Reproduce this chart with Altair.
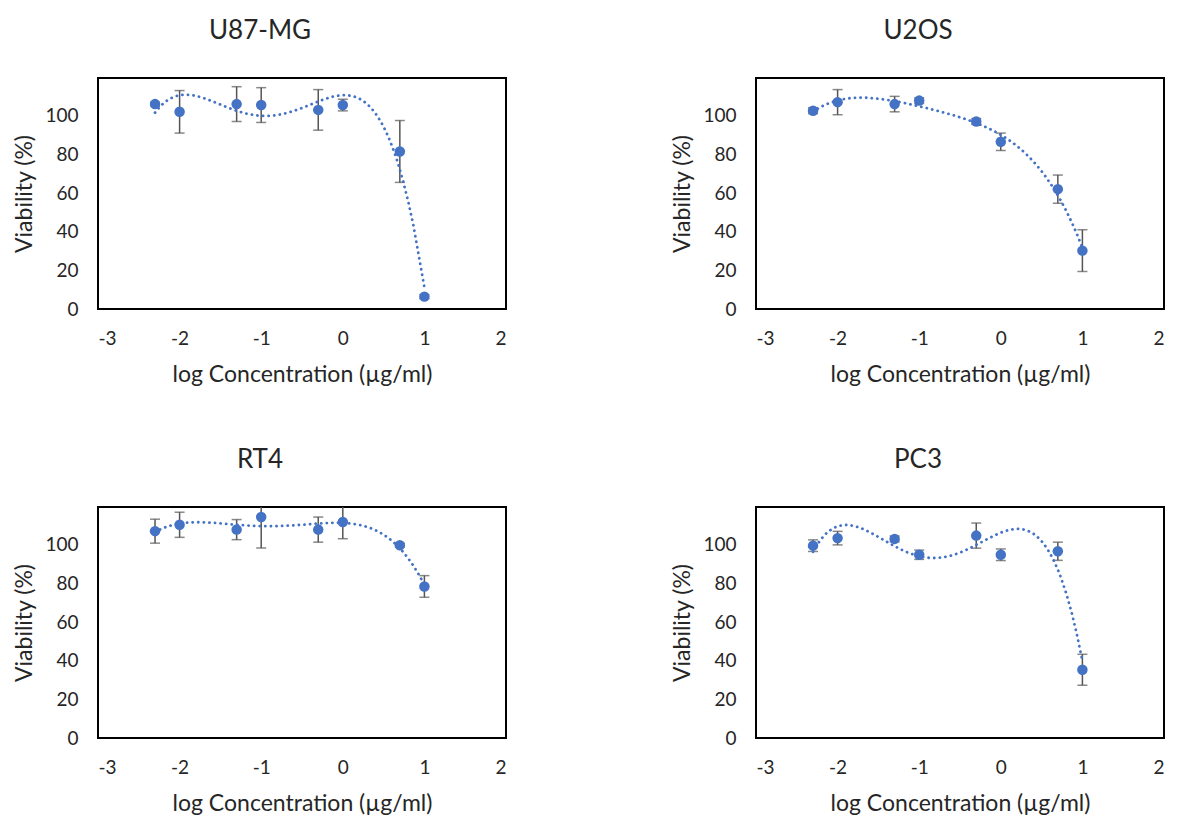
import altair as alt
import pandas as pd

log_conc = [-2.301, -2.0, -1.301, -1.0, -0.301, 0.0, 0.699, 1.0]

titles = ["U87-MG", "U2OS", "RT4", "PC3"]

u87_mean = [106, 102, 106, 105.5, 103, 105.5, 81.5, 6.4]
u87_sd = [1.0, 11, 9, 9, 10.5, 3, 16, 1.0]

u2os_mean = [102.6, 107, 106, 107.8, 97, 86.5, 62, 30.2]
u2os_sd = [1.5, 6.5, 4, 1.5, 1.5, 4.5, 7.3, 10.8]

rt4_mean = [107, 110.3, 107.8, 114.3, 107.8, 111.7, 99.7, 78.4]
rt4_sd = [6.2, 6.5, 5.2, 16, 6.5, 8.6, 1.0, 5.6]

pc3_mean = [99.5, 103.4, 103, 94.8, 104.7, 94.8, 96.6, 35.3]
pc3_sd = [3, 3.5, 1.5, 2.4, 6.5, 3, 4.7, 8]

means = [u87_mean, u2os_mean, rt4_mean, pc3_mean]
sds = [u87_sd, u2os_sd, rt4_sd, pc3_sd]

x_ticks = [-3, -2, -1, 0, 1, 2]
y_ticks = [0, 20, 40, 60, 80, 100]

BLUE = "#4472C4"
FONT = "Lato"
TXT = "#262626"


def panel(title, mean, sd):
    df = pd.DataFrame({"x": log_conc, "y": mean, "sd": sd})
    base = alt.Chart(df).transform_calculate(
        lo="datum.y - datum.sd", hi="datum.y + datum.sd"
    )
    xs = alt.Scale(domain=[-3, 2], nice=False, zero=False)
    ys = alt.Scale(domain=[0, 119.5], nice=False)
    xax = alt.Axis(values=x_ticks, title="log Concentration (µg/ml)",
                   labelExpr="'' + datum.value")
    yax = alt.Axis(values=y_ticks, title="Viability (%)")
    err = base.mark_errorbar(
        ticks={"size": 10, "color": "#555555", "strokeWidth": 1.5},
        color="#555555", thickness=1.5, clip=True
    ).encode(
        x=alt.X("x:Q", scale=xs, axis=xax),
        y=alt.Y("lo:Q", scale=ys, axis=yax),
        y2="hi:Q",
    )
    pts = base.mark_circle(size=110, color=BLUE, opacity=1).encode(
        x=alt.X("x:Q", scale=xs, axis=xax),
        y=alt.Y("y:Q", scale=ys, axis=yax),
    )
    trend = base.transform_regression(
        "x", "y", method="poly", order=4
    ).mark_line(
        color=BLUE, strokeWidth=2.8, strokeDash=[0.1, 5.5], strokeCap="round", clip=True
    ).encode(
        x=alt.X("x:Q", scale=xs, axis=xax),
        y=alt.Y("y:Q", scale=ys, axis=yax),
    )
    return alt.layer(err, pts, trend).properties(
        width=408, height=231, title=title
    )


panels = [panel(t, m, s) for t, m, s in zip(titles, means, sds)]

chart = alt.vconcat(
    alt.hconcat(panels[0], panels[1], spacing=163),
    alt.hconcat(panels[2], panels[3], spacing=163),
    spacing=59,
).properties(
    padding={"left": 12, "top": 17, "right": 5, "bottom": 2},
    background="white",
).configure_view(
    stroke="black", strokeWidth=2
).configure_axis(
    grid=False, domain=False, ticks=False,
    labelFont=FONT, labelFontSize=19, labelColor=TXT, labelPadding=20,
    titleFont=FONT, titleFontSize=23, titleColor=TXT, titleFontWeight="normal",
).configure_axisX(
    labelPadding=20, titlePadding=15
).configure_axisY(
    titlePadding=8
).configure_title(
    font=FONT, fontSize=26, fontWeight="normal", color=TXT, dx=-42, offset=34
)

chart.save("out.html", embed_options={"renderer": "svg", "actions": False})
